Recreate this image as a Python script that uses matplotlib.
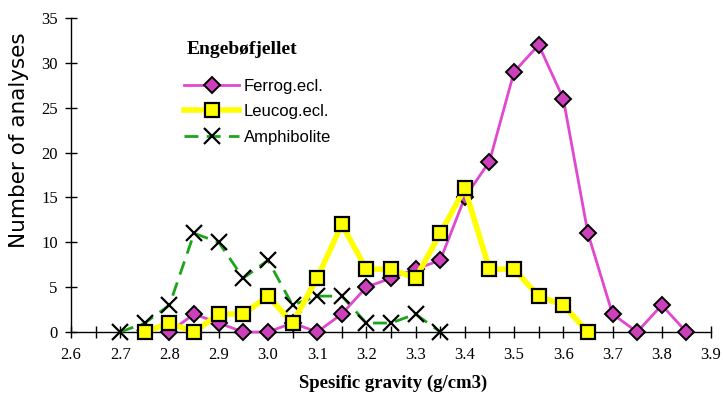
import matplotlib
matplotlib.use("Agg")
import matplotlib.pyplot as plt
import numpy as np
from matplotlib.ticker import MultipleLocator

ferrog_x = [2.80, 2.85, 2.90, 2.95, 3.00, 3.05, 3.10, 3.15, 3.20, 3.25, 3.30, 3.35,
            3.40, 3.45, 3.50, 3.55, 3.60, 3.65, 3.70, 3.75, 3.80, 3.85]
ferrog_y = [0, 2, 1, 0, 0, 1, 0, 2, 5, 6, 7, 8, 15, 19, 29, 32, 26, 11, 2, 0, 3, 0]

leucog_x = [2.75, 2.80, 2.85, 2.90, 2.95, 3.00, 3.05, 3.10, 3.15, 3.20, 3.25, 3.30,
            3.35, 3.40, 3.45, 3.50, 3.55, 3.60, 3.65]
leucog_y = [0, 1, 0, 2, 2, 4, 1, 6, 12, 7, 7, 6, 11, 16, 7, 7, 4, 3, 0]

amph_x = [2.70, 2.75, 2.80, 2.85, 2.90, 2.95, 3.00, 3.05, 3.10, 3.15, 3.20, 3.25, 3.30, 3.35]
amph_y = [0, 1, 3, 11, 10, 6, 8, 3, 4, 4, 1, 1, 2, 0]

x_ticks = [2.6, 2.7, 2.8, 2.9, 3.0, 3.1, 3.2, 3.3, 3.4, 3.5, 3.6, 3.7, 3.8, 3.9]
x_ticklabels = ["2.6", "2.7", "2.8", "2.9", "3.0", "3.1", "3.2", "3.3", "3.4", "3.5",
                "3.6", "3.7", "3.8", "3.9"]
y_ticks = [0, 5, 10, 15, 20, 25, 30, 35]

serif = ["Liberation Serif", "DejaVu Serif"]
sans = ["Liberation Sans", "DejaVu Sans"]

W, H = 723, 396
fig = plt.figure(figsize=(W / 100, H / 100), dpi=100)
ax = fig.add_axes([71/W, 1-332/H, 640/W, 314/H])

ax.plot(amph_x, amph_y, color="#1aa51a", lw=2, ls=(0, (5, 3)), marker="x",
        ms=11, mec="black", mew=1.6, label="Amphibolite", zorder=3, clip_on=False)
ax.plot(ferrog_x, ferrog_y, color="#e048d0", lw=2, marker="D", ms=8.5,
        mfc="#cc40bc", mec="black", mew=1.4, label="Ferrog.ecl.", zorder=4, clip_on=False)
ax.plot(leucog_x, leucog_y, color="#ffff00", lw=4, marker="s", ms=10.5,
        mfc="#ffff00", mec="black", mew=1.6, label="Leucog.ecl.", zorder=5, clip_on=False)

ax.set_xlim(2.6, 3.9)
ax.set_ylim(0, 35)
ax.spines["top"].set_visible(False)
ax.spines["right"].set_visible(False)
ax.spines["left"].set_linewidth(1)
ax.spines["bottom"].set_linewidth(1)

ax.set_xticks(x_ticks)
ax.set_xticklabels(x_ticklabels, family=serif, fontsize=12)
ax.xaxis.set_minor_locator(MultipleLocator(0.05))
ax.set_yticks(y_ticks)
ax.set_yticklabels([str(v) for v in y_ticks], family=serif, fontsize=12)
ax.tick_params(axis="both", which="both", direction="inout", length=9, width=1, pad=5)
ax.tick_params(axis="x", which="major", pad=6)

ax.set_xlabel("Spesific gravity (g/cm3)", family=serif, fontsize=13.5, fontweight="bold")
ax.xaxis.set_label_coords(0.503, -(383 - 332) / 314)
ax.xaxis.label.set_va("center")
ax.set_ylabel("Number of analyses", family=["DejaVu Sans"], fontsize=15.5)
ax.yaxis.set_label_coords(-(71 - 19) / 640, (332 - 140) / 314)
ax.yaxis.label.set_va("center")

fig.text(187/W, 1-50/H, "Engebøfjellet", family=serif, fontsize=14, fontweight="bold",
         ha="left", va="center")

handles, labels = ax.get_legend_handles_labels()
order = [1, 2, 0]
leg = fig.legend([handles[i] for i in order], [labels[i] for i in order],
                 loc="upper left", bbox_to_anchor=(184/W, 1-79/H), frameon=False,
                 prop={"family": sans, "size": 12}, handlelength=3.3,
                 handletextpad=0.3, borderaxespad=0, borderpad=0, labelspacing=0.62)

fig.savefig("out.png", dpi=100)
